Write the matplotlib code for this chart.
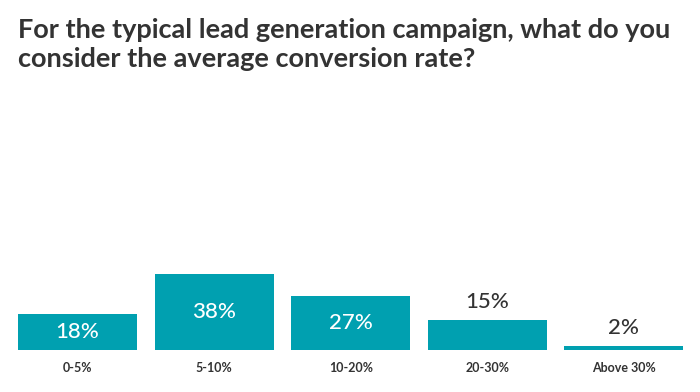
import matplotlib
matplotlib.use("Agg")
import matplotlib.pyplot as plt

categories = ["0-5%", "5-10%", "10-20%", "20-30%", "Above 30%"]
values = [18, 38, 27, 15, 2]

teal = "#00a0b0"
dark = "#333333"

plt.rcParams['font.family'] = ['Lato', 'DejaVu Sans']

fig = plt.figure(figsize=(7, 3.92), dpi=100)
# axes: 0% at y=350px, 2px per percent, 100% -> 150px
W, H = 700, 392
ax = fig.add_axes([9.2 / W, (H - 350) / H, 683 / W, 200 / H])
x = list(range(len(categories)))
ax.bar(x, values, width=0.87, color=teal)
ax.set_xlim(-0.5, 4.5)
ax.set_ylim(0, 100)

for xi, v in zip(x, values):
    if v >= 18:
        ax.text(xi, v / 2, f"{v}%", ha="center", va="center", color="white",
                fontsize=16, fontweight="medium")
    else:
        ax.text(xi, v + 4.2, f"{v}%", ha="center", va="bottom", color=dark,
                fontsize=16, fontweight="medium")

ax.set_xticks(x)
ax.set_xticklabels(categories, fontsize=9, fontweight="bold", color=dark)
ax.tick_params(axis="x", length=0, pad=9)
ax.set_yticks([])
for s in ax.spines.values():
    s.set_visible(False)

fig.text(18 / W, 1 - 18 / H,
         "For the typical lead generation campaign, what do you\nconsider the average conversion rate?",
         ha="left", va="top", fontsize=19.5, fontweight="bold", color=dark,
         linespacing=1.25)

fig.savefig("out.png", dpi=100)
